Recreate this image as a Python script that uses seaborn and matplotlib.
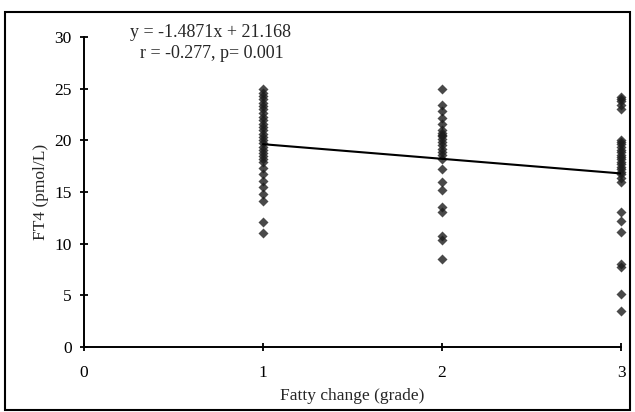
import numpy as np
import pandas as pd
import seaborn as sns
import matplotlib
matplotlib.use("Agg")
import matplotlib.pyplot as plt
from matplotlib.patches import Rectangle

# FT4 values (pmol/L) read per fatty-change grade
grade1_ft4 = [25.0, 24.6, 24.3, 24.0, 23.6, 23.3, 23.0, 22.6, 22.3, 22.0, 21.6, 21.3,
              21.0, 20.6, 20.3, 20.0, 19.7, 19.4, 19.1, 18.8, 18.5, 18.2, 17.9,
              17.3, 16.7, 16.1, 15.5, 14.8, 14.1, 12.1, 11.0]
grade2_ft4 = [25.0, 23.4, 22.8, 22.2, 21.6, 21.0, 20.7, 20.5, 20.4, 20.1, 19.8, 19.5,
              19.2, 18.9, 18.6, 18.2, 17.2, 16.0, 15.2, 13.5, 13.1, 10.7, 10.4, 8.5]
grade3_ft4 = [24.2, 24.0, 23.8, 23.4, 23.0,
              20.0, 19.8, 19.6, 19.4, 19.1, 18.9, 18.6, 18.4, 18.2, 17.9, 17.7, 17.4,
              17.2, 16.9, 16.7, 16.4, 16.0,
              13.1, 12.2, 11.1, 8.0, 7.7, 5.1, 3.5]
grades = [1, 2, 3]

x_ticks = [0, 1, 2, 3]
y_ticks = [0, 5, 10, 15, 20, 25, 30]
eq_text = "y = -1.4871x + 21.168"
stat_text = "r = -0.277, p= 0.001"
x_label = "Fatty change (grade)"
y_label = "FT4 (pmol/L)"

df = pd.DataFrame({
    "grade": np.concatenate([[g] * len(v) for g, v in zip(grades, [grade1_ft4, grade2_ft4, grade3_ft4])]),
    "ft4": np.concatenate([grade1_ft4, grade2_ft4, grade3_ft4]),
})

sns.set_style("ticks")
plt.rcParams["font.family"] = ["Liberation Serif", "DejaVu Serif"]

fig = plt.figure(figsize=(6.35, 4.12), dpi=100)
ax = fig.add_axes([0.1323, 0.1578, 0.8457, 0.7524])

sns.regplot(data=df, x="grade", y="ft4", ci=None, ax=ax, marker="D",
            scatter_kws=dict(s=26, color="#1c1c1c", linewidths=0, clip_on=False),
            line_kws=dict(color="black", lw=1.5))

ax.set_xlim(0, 3)
ax.set_ylim(0, 30)
ax.set_xticks(x_ticks)
ax.set_yticks(y_ticks)
ax.set_xlabel(x_label, fontsize=12.5, labelpad=5)
ax.set_ylabel(y_label, fontsize=12.5, labelpad=4)
for s in ["top", "right"]:
    ax.spines[s].set_visible(False)
for s in ["left", "bottom"]:
    ax.spines[s].set_linewidth(1.4)
    ax.spines[s].set_color("black")
ax.tick_params(axis="both", direction="inout", length=6, width=1.3, colors="black", labelsize=12.5)
ax.tick_params(axis="x", pad=10)
ax.tick_params(axis="y", pad=6)

fig.text(0.332, 0.922, eq_text, ha="center", va="center", fontsize=13)
fig.text(0.334, 0.871, stat_text, ha="center", va="center", fontsize=13)

fig.add_artist(Rectangle((0.008, 0.005), 0.984, 0.966, transform=fig.transFigure,
                         fill=False, lw=1.5, edgecolor="black"))

fig.savefig("out.png", dpi=100)
